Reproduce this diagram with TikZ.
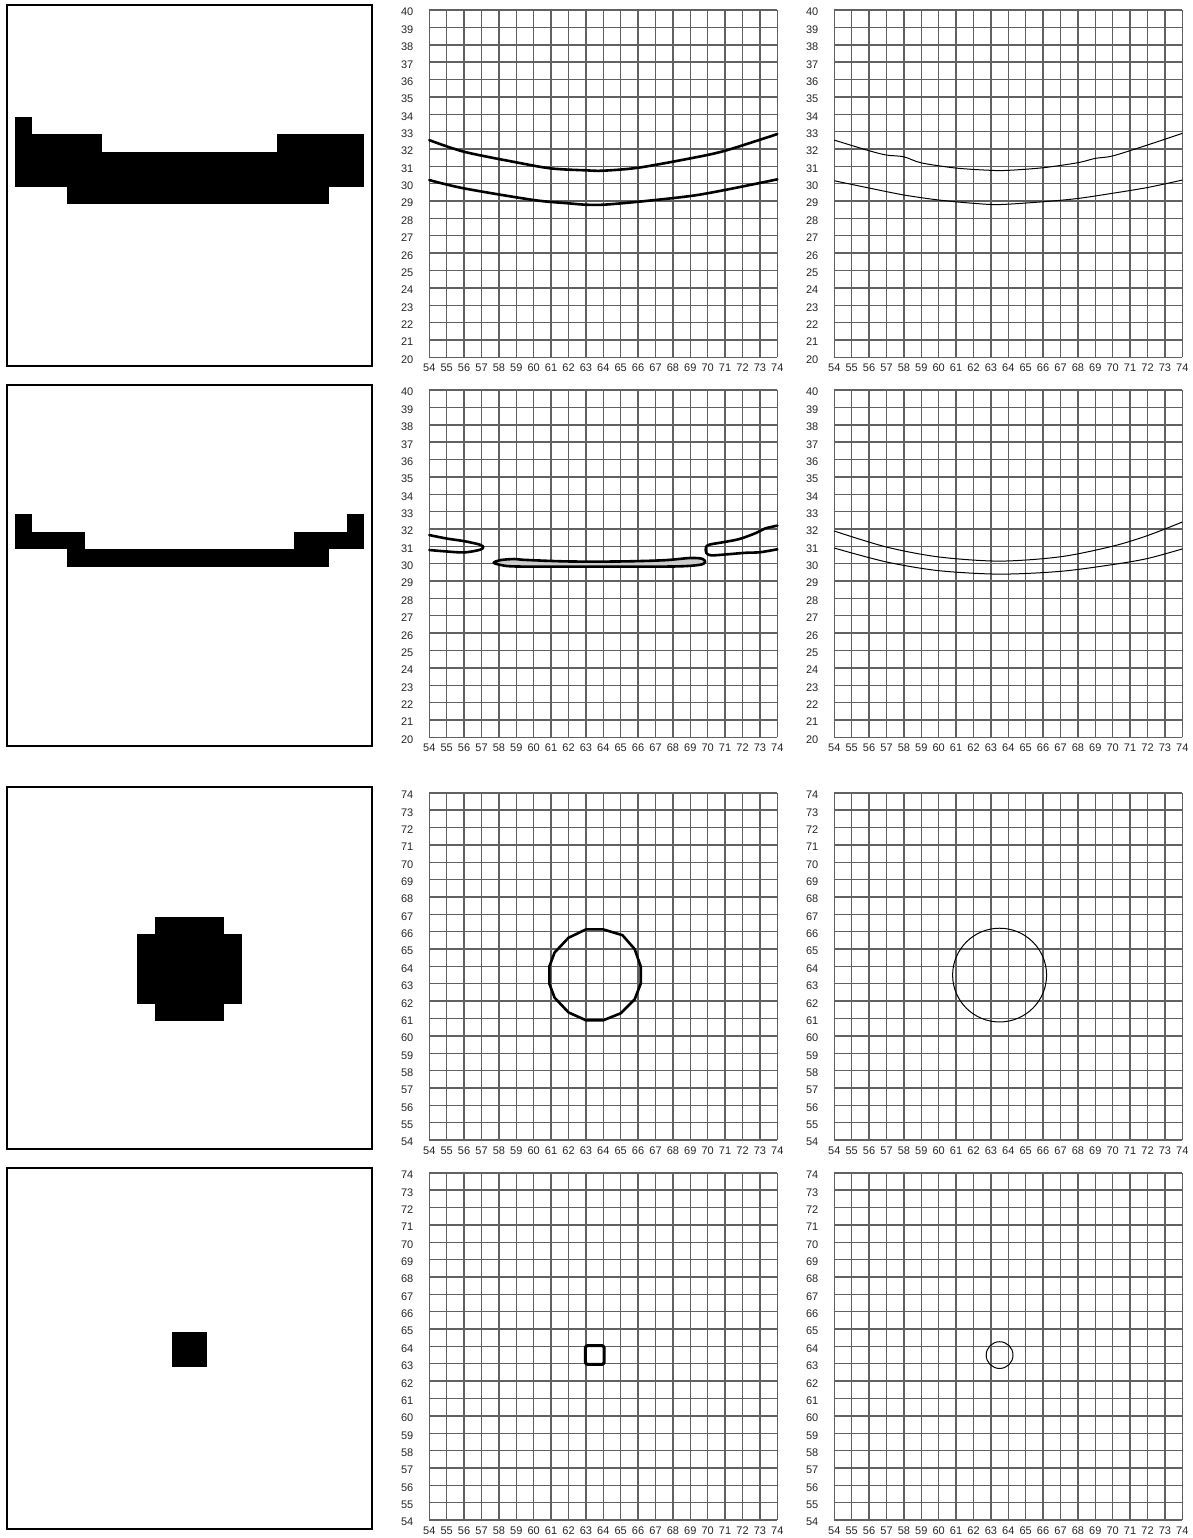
\documentclass[tikz,border=0pt]{standalone}
\usepackage{fontspec}
\setmainfont{Liberation Sans}
\newcommand{\gridlabels}[2]{%
  \foreach \i in {0,...,20} {
    \draw[gridline] (\i,0) -- (\i,20);
    \draw[gridline] (0,\i) -- (20,\i);
  }
  \foreach \i in {0,...,20} {
    \pgfmathtruncatemacro{\xl}{54+\i}
    \pgfmathtruncatemacro{\yl}{#2+\i}
    \node[ticklabel] (#1x\i) at (\i,-0.62) {\xl};
    \node[ticklabel] (#1y\i) at (-1.27,\i-0.12) {\yl};
  }%
}
\begin{document}
\begin{tikzpicture}[
  gridline/.style={draw=black!62, line width=0.7pt},
  ticklabel/.style={font=\fontsize{5.5}{6.5}\selectfont, text=black!85, inner sep=0pt},
  framebox/.style={draw=black, line width=1pt},
  pixel/.style={fill=black},
  thickcurve/.style={draw=black, line width=1.3pt, line join=round, line cap=round},
  thincurve/.style={draw=black, line width=0.5pt, line join=round},
  panel/.style={x=8.7pt, y=8.68pt},
  pixgrid/.style={x=8.725pt, y=-8.675pt}
]
\useasboundingbox[fill=white] (0,0) rectangle (596.5pt,-769pt);

% ---------- left boxes ----------
\draw[framebox] (3.5pt,-2.5pt) rectangle (186pt,-183pt);
\draw[framebox] (3.5pt,-192.5pt) rectangle (186pt,-373pt);
\draw[framebox] (3.5pt,-393.65pt) rectangle (186pt,-574.35pt);
\draw[framebox] (3.5pt,-584pt) rectangle (186pt,-764.35pt);

\begin{scope}[shift={(7.5pt,-6.5pt)}, pixgrid]
  \fill[pixel] (0,6) rectangle (1,7);
  \fill[pixel] (0,7) rectangle (5,8);
  \fill[pixel] (15,7) rectangle (20,8);
  \fill[pixel] (0,8) rectangle (20,10);
  \fill[pixel] (3,10) rectangle (18,11);
\end{scope}
\begin{scope}[shift={(7.5pt,-196.5pt)}, pixgrid]
  \fill[pixel] (0,7) rectangle (1,8);
  \fill[pixel] (19,7) rectangle (20,8);
  \fill[pixel] (0,8) rectangle (4,9);
  \fill[pixel] (16,8) rectangle (20,9);
  \fill[pixel] (3,9) rectangle (18,10);
\end{scope}
\begin{scope}[shift={(7.5pt,-397.65pt)}, pixgrid]
  \fill[pixel] (8,7) rectangle (12,8);
  \fill[pixel] (7,8) rectangle (13,12);
  \fill[pixel] (8,12) rectangle (12,13);
\end{scope}
\begin{scope}[shift={(7.5pt,-588pt)}, pixgrid]
  \fill[pixel] (9,9) rectangle (11,11);
\end{scope}

% ---------- row 1 ----------
\begin{scope}[shift={(214.65pt,-178.65pt)}, panel]
  \gridlabels{a}{20}
  \begin{scope}[shift={(-54,-20)}]
    \draw[thickcurve] plot[smooth] coordinates {(54,32.51) (56,31.84) (59,31.23) (61,30.88) (63,30.77) (64,30.75) (66,30.92) (69,31.46) (71,31.9) (74,32.86)};
    \draw[thickcurve] plot[smooth] coordinates {(54,30.21) (56,29.73) (60,29.06) (62,28.87) (63,28.79) (64,28.79) (66,28.96) (69,29.29) (71,29.64) (74,30.25)};
  \end{scope}
\end{scope}
\begin{scope}[shift={(417.15pt,-178.65pt)}, panel]
  \gridlabels{b}{20}
  \begin{scope}[shift={(-54,-20)}]
    \draw[thincurve] plot[smooth] coordinates {(54,32.51) (56,31.9) (57,31.65) (58,31.55) (59,31.2) (61,30.9) (63,30.77) (64,30.77) (66,30.92) (68,31.21) (69,31.46) (70,31.6) (72,32.23) (74,32.9)};
    \draw[thincurve] plot[smooth] coordinates {(54,30.17) (56,29.75) (58,29.35) (60,29.06) (62,28.87) (63.5,28.8) (66,28.96) (68,29.15) (70,29.45) (72,29.78) (74,30.21)};
  \end{scope}
\end{scope}

% ---------- row 2 ----------
\begin{scope}[shift={(214.65pt,-368.65pt)}, panel]
  \gridlabels{c}{20}
  \begin{scope}[shift={(-54,-20)}]
    \draw[thickcurve] plot[smooth] coordinates {(54,31.65) (55,31.45) (56,31.3) (56.9,31.1) (57.1,30.95) (56.9,30.8) (56,30.65) (54.8,30.72) (54,30.79)};
    \draw[thickcurve, fill=black!20] plot[smooth cycle] coordinates {(57.7,30.06) (58.1,30.21) (58.9,30.27) (59.5,30.22) (62,30.13) (65,30.13) (67.5,30.2) (69,30.33) (69.7,30.28) (69.85,30.08) (69.5,29.93) (68,29.84) (63,29.83) (59,29.84) (58.1,29.93)};
    \draw[thickcurve] plot[smooth] coordinates {(74,32.19) (73.3,32.03) (72.8,31.78) (71.85,31.43) (70.9,31.24) (70.1,31.1) (69.9,30.95) (69.92,30.62) (70.2,30.48) (71.1,30.54) (72.2,30.63) (73,30.66) (74,30.83)};
  \end{scope}
\end{scope}
\begin{scope}[shift={(417.15pt,-368.65pt)}, panel]
  \gridlabels{d}{20}
  \begin{scope}[shift={(-54,-20)}]
    \draw[thincurve] plot[smooth] coordinates {(54,31.88) (57,30.96) (60,30.39) (63.5,30.15) (67,30.4) (70,31.01) (72,31.62) (74,32.4)};
    \draw[thincurve] plot[smooth] coordinates {(54,30.9) (57,30.1) (60,29.6) (63.5,29.4) (67,29.56) (70,29.95) (72,30.3) (74,30.85)};
  \end{scope}
\end{scope}

% ---------- row 3 ----------
\begin{scope}[shift={(214.65pt,-570pt)}, panel]
  \gridlabels{e}{54}
  \begin{scope}[shift={(-54,-54)}]
    \draw[thickcurve] (63,66.13) -- (64,66.13) -- (65.1,65.8) -- (65.8,65.0) -- (66.15,64) -- (66.15,63) -- (65.8,62.1) -- (65,61.3) -- (64,60.9) -- (63,60.9) -- (62,61.35) -- (61.2,62.2) -- (60.9,63) -- (60.9,64) -- (61.2,64.8) -- (62,65.65) -- cycle;
  \end{scope}
\end{scope}
\begin{scope}[shift={(417.15pt,-570pt)}, panel]
  \gridlabels{f}{54}
  \begin{scope}[shift={(-54,-54)}]
    \draw[thincurve] (63.5,63.5) circle [x radius=2.7, y radius=2.7];
  \end{scope}
\end{scope}

% ---------- row 4 ----------
\begin{scope}[shift={(214.65pt,-760pt)}, panel]
  \gridlabels{g}{54}
  \begin{scope}[shift={(-54,-54)}]
    \draw[thickcurve, line width=1.5pt, rounded corners=1.2pt] (62.97,62.96) rectangle (64.05,64.05);
  \end{scope}
\end{scope}
\begin{scope}[shift={(417.15pt,-760pt)}, panel]
  \gridlabels{h}{54}
  \begin{scope}[shift={(-54,-54)}]
    \draw[thincurve] (63.5,63.5) circle [x radius=0.77, y radius=0.77];
  \end{scope}
\end{scope}
\end{tikzpicture}
\end{document}
